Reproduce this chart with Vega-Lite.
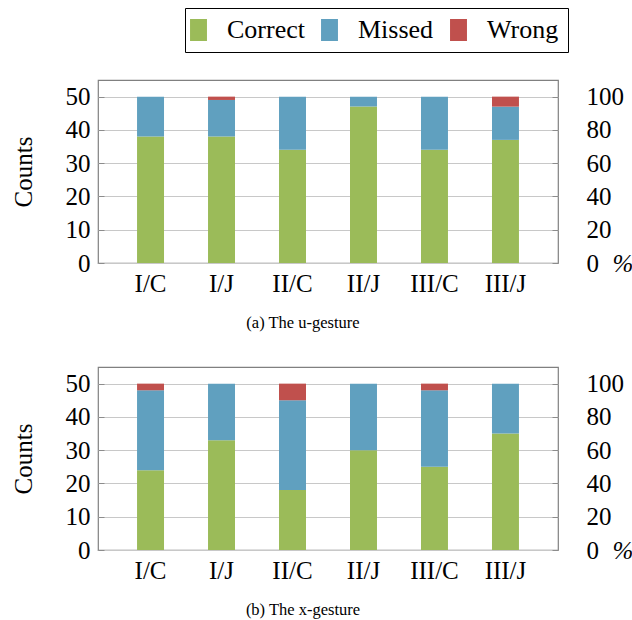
{
  "$schema": "https://vega.github.io/schema/vega-lite/v6.json",
  "padding": {"left": 10, "top": 7, "right": 0, "bottom": 0},
  "background": "white",
  "config": {
    "font": "Liberation Serif",
    "view": {"stroke": "#808080", "strokeWidth": 1.2},
    "axis": {
      "labelFont": "Liberation Serif",
      "labelFontSize": 25,
      "labelColor": "black",
      "titleFont": "Liberation Serif",
      "titleFontSize": 25,
      "titleFontWeight": "normal",
      "titleColor": "black",
      "domain": false
    },
    "legend": {
      "orient": "none",
      "legendX": 87,
      "legendY": -72,
      "direction": "horizontal",
      "strokeColor": "black",
      "padding": 9,
      "labelFont": "Liberation Serif",
      "labelFontSize": 26,
      "labelColor": "black",
      "labelOffset": 15.5,
      "columnPadding": 16,
      "symbolOffset": -8.5,
      "symbolType": "M-0.77,-1H0.77V1H-0.77Z",
      "symbolSize": 484,
      "symbolStrokeWidth": 0
    },
    "title": {"font": "Liberation Serif", "fontSize": 16.5, "fontWeight": "normal", "color": "black"}
  },
  "data": {"values": [
    {"Gesture": "u", "Condition": "I/C", "Outcome": "Correct", "Count": 38},
    {"Gesture": "u", "Condition": "I/C", "Outcome": "Missed", "Count": 12},
    {"Gesture": "u", "Condition": "I/C", "Outcome": "Wrong", "Count": 0},
    {"Gesture": "u", "Condition": "I/J", "Outcome": "Correct", "Count": 38},
    {"Gesture": "u", "Condition": "I/J", "Outcome": "Missed", "Count": 11},
    {"Gesture": "u", "Condition": "I/J", "Outcome": "Wrong", "Count": 1},
    {"Gesture": "u", "Condition": "II/C", "Outcome": "Correct", "Count": 34},
    {"Gesture": "u", "Condition": "II/C", "Outcome": "Missed", "Count": 16},
    {"Gesture": "u", "Condition": "II/C", "Outcome": "Wrong", "Count": 0},
    {"Gesture": "u", "Condition": "II/J", "Outcome": "Correct", "Count": 47},
    {"Gesture": "u", "Condition": "II/J", "Outcome": "Missed", "Count": 3},
    {"Gesture": "u", "Condition": "II/J", "Outcome": "Wrong", "Count": 0},
    {"Gesture": "u", "Condition": "III/C", "Outcome": "Correct", "Count": 34},
    {"Gesture": "u", "Condition": "III/C", "Outcome": "Missed", "Count": 16},
    {"Gesture": "u", "Condition": "III/C", "Outcome": "Wrong", "Count": 0},
    {"Gesture": "u", "Condition": "III/J", "Outcome": "Correct", "Count": 37},
    {"Gesture": "u", "Condition": "III/J", "Outcome": "Missed", "Count": 10},
    {"Gesture": "u", "Condition": "III/J", "Outcome": "Wrong", "Count": 3},
    {"Gesture": "x", "Condition": "I/C", "Outcome": "Correct", "Count": 24},
    {"Gesture": "x", "Condition": "I/C", "Outcome": "Missed", "Count": 24},
    {"Gesture": "x", "Condition": "I/C", "Outcome": "Wrong", "Count": 2},
    {"Gesture": "x", "Condition": "I/J", "Outcome": "Correct", "Count": 33},
    {"Gesture": "x", "Condition": "I/J", "Outcome": "Missed", "Count": 17},
    {"Gesture": "x", "Condition": "I/J", "Outcome": "Wrong", "Count": 0},
    {"Gesture": "x", "Condition": "II/C", "Outcome": "Correct", "Count": 18},
    {"Gesture": "x", "Condition": "II/C", "Outcome": "Missed", "Count": 27},
    {"Gesture": "x", "Condition": "II/C", "Outcome": "Wrong", "Count": 5},
    {"Gesture": "x", "Condition": "II/J", "Outcome": "Correct", "Count": 30},
    {"Gesture": "x", "Condition": "II/J", "Outcome": "Missed", "Count": 20},
    {"Gesture": "x", "Condition": "II/J", "Outcome": "Wrong", "Count": 0},
    {"Gesture": "x", "Condition": "III/C", "Outcome": "Correct", "Count": 25},
    {"Gesture": "x", "Condition": "III/C", "Outcome": "Missed", "Count": 23},
    {"Gesture": "x", "Condition": "III/C", "Outcome": "Wrong", "Count": 2},
    {"Gesture": "x", "Condition": "III/J", "Outcome": "Correct", "Count": 35},
    {"Gesture": "x", "Condition": "III/J", "Outcome": "Missed", "Count": 15},
    {"Gesture": "x", "Condition": "III/J", "Outcome": "Wrong", "Count": 0}
  ]},
  "spacing": 33,
  "vconcat": [
    {
      "transform": [{"filter": "datum.Gesture === 'u'"}],
      "width": 460,
      "height": 183,
      "title": {"text": "(a) The u-gesture", "orient": "bottom", "offset": 19, "dx": -25},
      "layer": [
        {
          "mark": {"type": "bar"},
          "encoding": {
            "x": {"field": "Condition", "type": "nominal", "sort": ["I/C", "I/J", "II/C", "II/J", "III/C", "III/J"],
                  "scale": {"paddingInner": 0.62, "paddingOuter": 0.55},
                  "axis": {"title": null, "labelAngle": 0, "ticks": false, "labelPadding": 8}},
            "y": {"field": "Count", "type": "quantitative", "stack": "zero",
                  "scale": {"domain": [0, 55], "nice": false},
                  "axis": {"title": "Counts", "values": [0, 10, 20, 30, 40, 50], "grid": true, "gridColor": "#c8c8c8", "gridWidth": 1,
                           "tickSize": -6, "tickColor": "#8c8c8c", "labelPadding": 14,
                           "titleX": -67, "titleY": 91.5, "titleAlign": "center", "titleBaseline": "alphabetic"}},
            "color": {"field": "Outcome", "type": "nominal",
                      "scale": {"domain": ["Correct", "Missed", "Wrong"], "range": ["#9BBB59", "#60A0BF", "#C0504D"]},
                      "legend": {"title": null}},
            "order": {"field": "Outcome", "sort": "ascending"}
          }
        },
        {
          "mark": {"type": "tick", "opacity": 0},
          "encoding": {
            "x": {"field": "Condition", "type": "nominal", "sort": ["I/C", "I/J", "II/C", "II/J", "III/C", "III/J"]},
            "y": {"field": "Count", "type": "quantitative",
                  "scale": {"domain": [0, 110], "nice": false},
                  "axis": {"orient": "right", "values": [0, 20, 40, 60, 80, 100], "grid": false,
                           "tickSize": -6, "tickColor": "#8c8c8c", "labelPadding": 34,
                           "title": "%", "titleAngle": 0, "titleX": 54, "titleY": 183, "titleAlign": "left", "titleBaseline": "middle", "titleFontStyle": "italic"}}
          }
        }
      ],
      "resolve": {"scale": {"y": "independent"}}
    },
    {
      "transform": [{"filter": "datum.Gesture === 'x'"}],
      "width": 460,
      "height": 183,
      "title": {"text": "(b) The x-gesture", "orient": "bottom", "offset": 19, "dx": -25},
      "layer": [
        {
          "mark": {"type": "bar"},
          "encoding": {
            "x": {"field": "Condition", "type": "nominal", "sort": ["I/C", "I/J", "II/C", "II/J", "III/C", "III/J"],
                  "scale": {"paddingInner": 0.62, "paddingOuter": 0.55},
                  "axis": {"title": null, "labelAngle": 0, "ticks": false, "labelPadding": 8}},
            "y": {"field": "Count", "type": "quantitative", "stack": "zero",
                  "scale": {"domain": [0, 55], "nice": false},
                  "axis": {"title": "Counts", "values": [0, 10, 20, 30, 40, 50], "grid": true, "gridColor": "#c8c8c8", "gridWidth": 1,
                           "tickSize": -6, "tickColor": "#8c8c8c", "labelPadding": 14,
                           "titleX": -67, "titleY": 91.5, "titleAlign": "center", "titleBaseline": "alphabetic"}},
            "color": {"field": "Outcome", "type": "nominal",
                      "scale": {"domain": ["Correct", "Missed", "Wrong"], "range": ["#9BBB59", "#60A0BF", "#C0504D"]},
                      "legend": {"title": null}},
            "order": {"field": "Outcome", "sort": "ascending"}
          }
        },
        {
          "mark": {"type": "tick", "opacity": 0},
          "encoding": {
            "x": {"field": "Condition", "type": "nominal", "sort": ["I/C", "I/J", "II/C", "II/J", "III/C", "III/J"]},
            "y": {"field": "Count", "type": "quantitative",
                  "scale": {"domain": [0, 110], "nice": false},
                  "axis": {"orient": "right", "values": [0, 20, 40, 60, 80, 100], "grid": false,
                           "tickSize": -6, "tickColor": "#8c8c8c", "labelPadding": 34,
                           "title": "%", "titleAngle": 0, "titleX": 54, "titleY": 183, "titleAlign": "left", "titleBaseline": "middle", "titleFontStyle": "italic"}}
          }
        }
      ],
      "resolve": {"scale": {"y": "independent"}}
    }
  ],
  "resolve": {"legend": {"color": "shared"}}
}
